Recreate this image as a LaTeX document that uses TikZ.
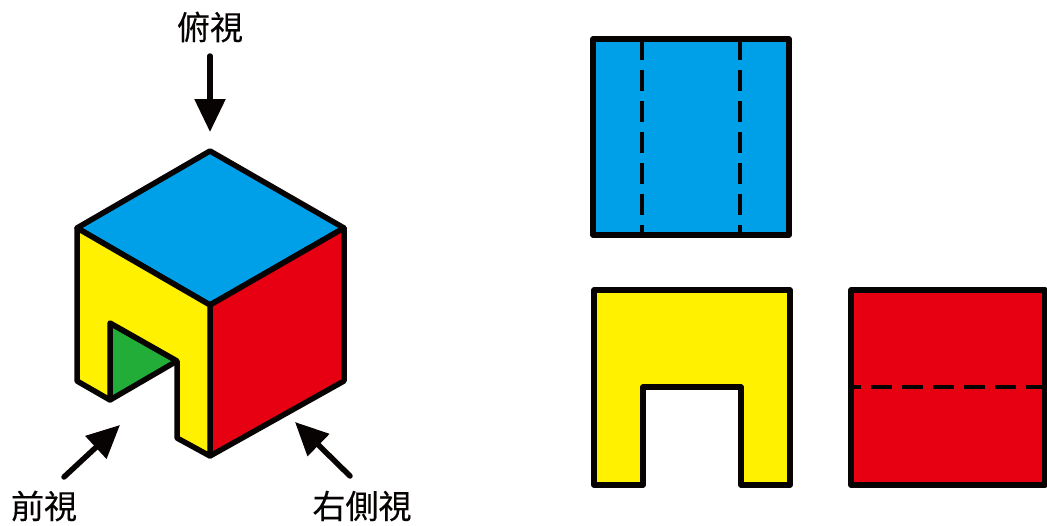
\documentclass[tikz,border=0pt]{standalone}
\usepackage{fontspec}
\setmainfont[FakeBold=0.35]{Noto Sans CJK TC}
\usetikzlibrary{arrows.meta}
\definecolor{cblue}{HTML}{00A0E9}
\definecolor{cyellow}{HTML}{FFF100}
\definecolor{cred}{HTML}{E60012}
\definecolor{cgreen}{HTML}{22AC38}
\definecolor{cink}{HTML}{070303}
\tikzset{
  face/.style={draw=cink,line width=5.5pt,line join=round},
  hidden/.style={draw=cink,line width=3.2pt,dash pattern=on 21pt off 10pt},
  viewarrow/.style={draw=cink,line width=5.5pt,line cap=round,
    -{Triangle[length=33pt,width=30pt,fill=cink]}},
  viewlabel/.style={inner sep=0pt,font=\fontsize{33}{33}\selectfont,text=cink}
}
\begin{document}
\begin{tikzpicture}[x=1pt,y=-1pt]
\useasboundingbox (0,0) rectangle (1047,525);
% cube
\coordinate (T) at (210,151);
\coordinate (L) at (77,228);
\coordinate (R) at (344,228);
\coordinate (C) at (210,305);
\coordinate (B) at (210,456);
\coordinate (LB) at (77,381);
\coordinate (RB) at (344,381);
\coordinate (N1) at (110,400);
\coordinate (N2) at (110,323);
\coordinate (N3) at (177,361);
\coordinate (N4) at (177,438);
\filldraw[face,fill=cgreen] (N1) -- (N2) -- (N3) -- cycle;
\filldraw[face,fill=cblue] (T) -- (R) -- (C) -- (L) -- cycle;
\filldraw[face,fill=cred] (C) -- (R) -- (RB) -- (B) -- cycle;
\filldraw[face,fill=cyellow] (L) -- (C) -- (B) -- (N4) -- (N3) -- (N2) -- (N1) -- (LB) -- cycle;
% top view
\filldraw[face,fill=cblue] (593,39) rectangle (789,235);
\draw[hidden] (642,39) -- (642,235);
\draw[hidden] (740,39) -- (740,235);
% front view
\filldraw[face,fill=cyellow] (594,290) -- (790,290) -- (790,485) -- (741,485) -- (741,387) -- (643,387) -- (643,485) -- (594,485) -- cycle;
% side view
\filldraw[face,fill=cred] (851,290) rectangle (1045,485);
\draw[hidden,dash phase=11pt] (851,387) -- (1045,387);
% labels and arrows
\node[viewlabel] (top) at (210,27) {俯視};
\node[viewlabel] (front) at (44,506) {前視};
\node[viewlabel] (side) at (362,506) {右側視};
\coordinate (a1s) at (210,56);
\coordinate (a1e) at (210,132);
\coordinate (a2s) at (64,477);
\coordinate (a2e) at (120,425);
\coordinate (a3s) at (350,476);
\coordinate (a3e) at (295,422);
\draw[viewarrow] (a1s) -- (a1e);
\draw[viewarrow] (a2s) -- (a2e);
\draw[viewarrow] (a3s) -- (a3e);
\end{tikzpicture}
\end{document}
